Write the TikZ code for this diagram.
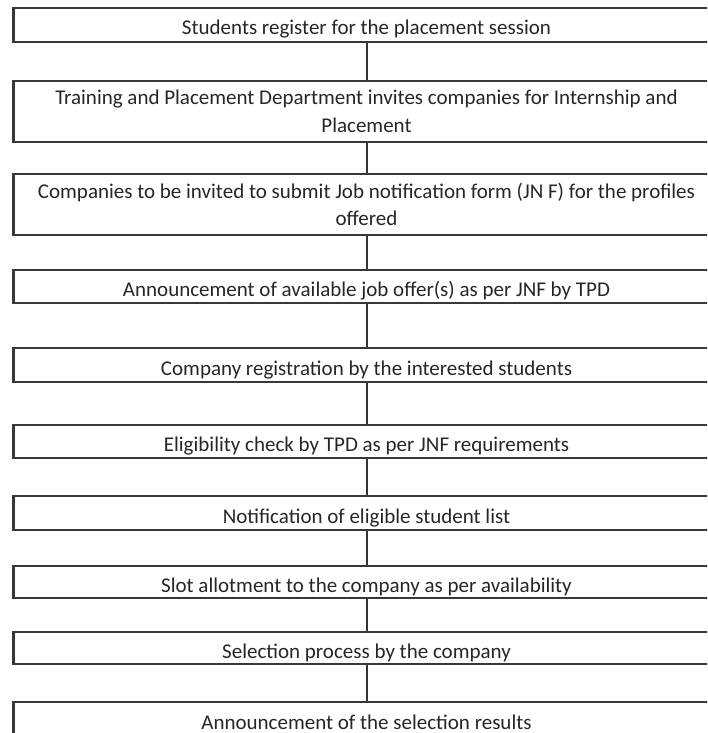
\documentclass[tikz,border=0pt]{standalone}
\usepackage{fontspec}
\setmainfont{Carlito}
\begin{document}
\begin{tikzpicture}[x=1pt,y=-1pt,
  stepbox/.style={draw=black!78, line width=2.3pt, rectangle, inner sep=0pt,
    minimum width=706pt, text=black!85, align=center,
    font=\fontsize{21}{27.7}\selectfont},
  onerow/.style={stepbox, text height=20pt, text depth=0pt},
  tworow/.style={stepbox},
  link/.style={draw=black!80, line width=2pt}]
\useasboundingbox (0,0) rectangle (707,733);
\clip (0,0) rectangle (707,733);
\node[onerow, minimum height=34pt] (b1) at (366.5,25) {Students register for the placement session};
\node[tworow, minimum height=61pt] (b2) at (366.5,111.5) {Training and Placement Department invites companies for Internship and\\Placement};
\node[tworow, minimum height=61pt] (b3) at (366.5,204.5) {Companies to be invited to submit Job notification form (JN F) for the profiles\\offered};
\node[onerow, minimum height=33pt] (b4) at (366.5,286.5) {Announcement of available job offer(s) as per JNF by TPD};
\node[onerow, minimum height=34pt] (b5) at (366.5,365) {Company registration by the interested students};
\node[onerow, minimum height=33pt] (b6) at (366.5,441.5) {Eligibility check by TPD as per JNF requirements};
\node[onerow, minimum height=34pt] (b7) at (366.5,513) {Notification of eligible student list};
\node[onerow, minimum height=32pt] (b8) at (366.5,582) {Slot allotment to the company as per availability};
\node[onerow, minimum height=32pt] (b9) at (366.5,648) {Selection process by the company};
\node[onerow, minimum height=34pt] (b10) at (366.5,719) {Announcement of the selection results};
\foreach \a/\b in {b1/b2,b2/b3,b3/b4,b4/b5,b5/b6,b6/b7,b7/b8,b8/b9,b9/b10}
  \draw[link] (\a.south) -- (\b.north);
\end{tikzpicture}
\end{document}
